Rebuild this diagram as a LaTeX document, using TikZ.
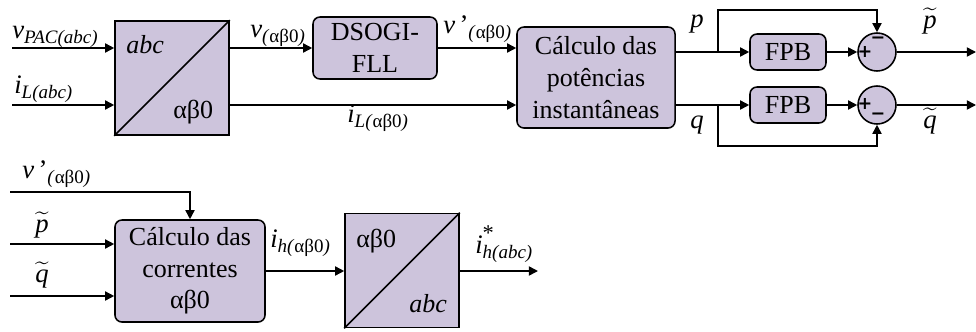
\documentclass[tikz,border=0pt]{standalone}
\usepackage{fontspec}
\usepackage{amsmath}
\setmainfont{Liberation Serif}
\newfontfamily\signfont{DejaVu Sans}
\usetikzlibrary{positioning, arrows.meta}

\definecolor{blockfill}{RGB}{205,196,220}
\newcommand{\lsub}[1]{\raisebox{-0.45ex}{\fontsize{13.5}{14}\selectfont\itshape #1}}
\newcommand{\gr}{\textup{αβ0}}

\tikzset{
	blk/.style={draw, fill=blockfill, line width=1.1pt, rounded corners=5pt, align=center, inner sep=0pt, font=\fontsize{18.5}{22.5}\selectfont},
	tfblk/.style={draw, fill=blockfill, line width=1.1pt, minimum width=2.85cm, minimum height=2.85cm, inner sep=0pt},
	sumblk/.style={circle, draw, fill=blockfill, line width=1.1pt, minimum size=0.95cm, inner sep=0pt},
	sig/.style={-{Triangle[length=6.5pt,width=6.5pt]}, line width=1.1pt},
	lbl/.style={anchor=base west, inner sep=0pt, font=\fontsize{19}{20}\selectfont},
	sgn/.style={inner sep=0pt, font=\signfont\bfseries\fontsize{12.5}{12.5}\selectfont},
}

\begin{document}
\begin{tikzpicture}[x=0.025cm, y=-0.025cm]
	\useasboundingbox (0,0) rectangle (976,331);
	
	% --- Upper chain ---
	\node[tfblk] (tf1) at (172,78) {};
	\draw[line width=1.1pt] (tf1.south west) -- (tf1.north east);
	\node[lbl, font=\fontsize{18.5}{20}\selectfont\itshape] (tf1abc) at (126,53) {abc};
	\node[lbl, font=\fontsize{18.5}{20}\selectfont] (tf1gr) at (173,118) {αβ0};
	
	\node[blk, minimum width=3.1cm, minimum height=1.55cm] (dsogi) at (375,48) {DSOGI-\\FLL};
	\node[blk, minimum width=3.95cm, minimum height=2.525cm] (pot) at (596,77.5) {Cálculo das\\potências\\instantâneas};
	\node[blk, minimum width=1.9cm, minimum height=0.9cm] (fpb1) at (788,52) {FPB};
	\node[blk, minimum width=1.9cm, minimum height=0.9cm] (fpb2) at (788,105) {FPB};
	\node[sumblk] (sum1) at (877,52) {};
	\node[sumblk] (sum2) at (877,105) {};
	\node[sgn] (s1p) at (865,52) {+};
	\node[sgn] (s1m) at (878,40) {−};
	\node[sgn] (s2p) at (865,104) {+};
	\node[sgn] (s2m) at (878,116) {−};
	
	\coordinate (vin) at (12,48);
	\coordinate (iin) at (12,105);
	\coordinate (br1) at (718,52);
	\coordinate (br2) at (718,105);
	\coordinate (top1) at (718,10);
	\coordinate (bot2) at (718,146);
	\coordinate (pout) at (976,52);
	\coordinate (qout) at (976,105);
	
	\draw[sig] (vin) -- (vin -| tf1.west);
	\draw[sig] (iin) -- (iin -| tf1.west);
	\draw[sig] (dsogi.west -| tf1.east) -- (dsogi.west);
	\draw[sig] (dsogi.east) -- (dsogi.east -| pot.west);
	\draw[sig] (iin -| tf1.east) -- (iin -| pot.west);
	\draw[sig] (br1 -| pot.east) -- (fpb1.west);
	\draw[sig] (br2 -| pot.east) -- (fpb2.west);
	\draw[sig] (fpb1.east) -- (sum1.west);
	\draw[sig] (fpb2.east) -- (sum2.west);
	\draw[sig] (br1) -- (top1) -| (sum1.north);
	\draw[sig] (br2) -- (bot2) -| (sum2.south);
	\draw[sig] (sum1.east) -- (pout);
	\draw[sig] (sum2.east) -- (qout);
	
	\node[lbl] (lvpac) at (12,38) {\textit{v}\lsub{PAC(abc)}};
	\node[lbl] (liabc) at (14,93) {\textit{i}\lsub{L(abc)}};
	\node[lbl] (lvab) at (250,37) {\textit{v}\lsub{(\gr)}};
	\node[lbl] (lvpab) at (443,33) {\textit{v}\,’\lsub{(\gr)}};
	\node[lbl] (liab) at (347,122) {\textit{i}\lsub{L(\gr)}};
	\node[lbl] (lp) at (690,27) {\textit{p}};
	\node[lbl] (lq) at (690,128) {\textit{q}};
	\node[lbl] (lpt) at (923,28) {$\widetilde{\text{\itshape p}}$};
	\node[lbl] (lqt) at (923,128) {$\widetilde{\text{\itshape q}}$};
	
	% --- Lower chain ---
	\node[blk, minimum width=3.75cm, minimum height=2.55cm] (cor) at (190,271) {Cálculo das\\correntes\\αβ0};
	\node[tfblk] (tf2) at (402,270.5) {};
	\draw[line width=1.1pt] (tf2.south west) -- (tf2.north east);
	\node[lbl, font=\fontsize{18.5}{20}\selectfont] (tf2gr) at (356,247) {αβ0};
	\node[lbl, font=\fontsize{18.5}{20}\selectfont\itshape] (tf2abc) at (409,312) {abc};
	
	\coordinate (vpin) at (10,192);
	\coordinate (ptin) at (10,244);
	\coordinate (qtin) at (10,296);
	\coordinate (ihout) at (538,271);
	
	\draw[sig] (vpin) -| (cor.north);
	\draw[sig] (ptin) -- (ptin -| cor.west);
	\draw[sig] (qtin) -- (qtin -| cor.west);
	\draw[sig] (cor.east) -- (cor.east -| tf2.west);
	\draw[sig] (cor.east -| tf2.east) -- (ihout);
	
	\node[lbl] (lvp2) at (22,178) {\textit{v}\,’\lsub{(\gr)}};
	\node[lbl] (lpt2) at (35,232) {$\widetilde{\text{\itshape p}}$};
	\node[lbl] (lqt2) at (35,282) {$\widetilde{\text{\itshape q}}$};
	\node[lbl] (lih) at (270,247) {\textit{i}\lsub{h(\gr)}};
	\node[lbl] (lihs) at (475,253) {\textit{i}\makebox[0pt][l]{\raisebox{1.05ex}{\fontsize{16}{16}\selectfont *}}\lsub{h(abc)}};
\end{tikzpicture}
\end{document}
